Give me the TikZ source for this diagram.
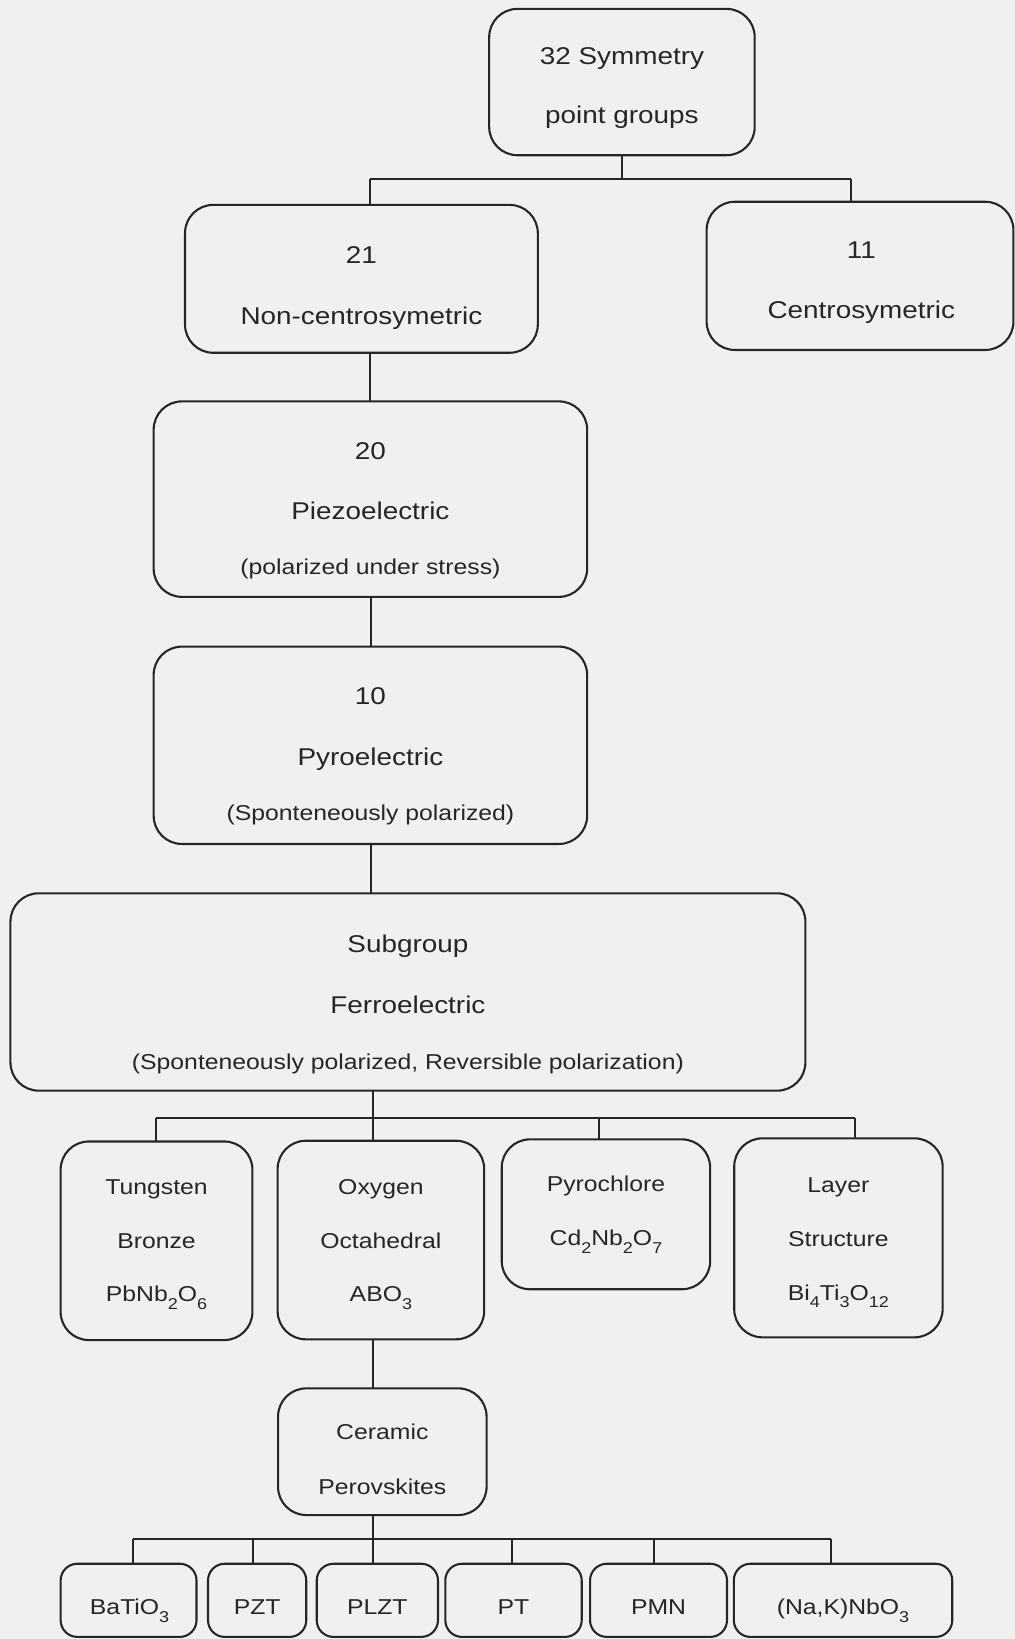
\documentclass[tikz,border=0pt]{standalone}
\usepackage{fontspec}
\setmainfont{Liberation Sans}[FakeStretch=1.15]
\definecolor{paper}{RGB}{240,240,238}
\definecolor{ink}{RGB}{38,38,38}
\newcommand\mainsz{\fontsize{11.6pt}{13pt}\selectfont}
\newcommand\smallsz{\fontsize{10.3pt}{12pt}\selectfont}
\newcommand\chemsub[1]{\raisebox{-3.8pt}{\fontsize{7.5pt}{8pt}\selectfont #1}}

\begin{document}
\begin{tikzpicture}[x=0.5pt,y=-0.5pt,
  box/.style={draw=ink, line width=1pt, rounded corners=13.5pt, inner sep=0pt, outer sep=0pt},
  leaf/.style={box, rounded corners=8pt},
  wire/.style={draw=ink, line width=1pt},
  txt/.style={anchor=base, inner sep=0pt, text=ink, font=\mainsz},
  stxt/.style={txt, font=\smallsz}]

% paper
\fill[paper] (0,0) rectangle (971,1568);
\useasboundingbox (0,0) rectangle (971,1568);

% ---- boxes ----
\node[box, minimum width=127pt,    minimum height=70pt]   (sym) at (595,78.5) {};
\node[box, minimum width=168.75pt, minimum height=70.75pt] (nc) at (345.75,266.75) {};
\node[box, minimum width=146.75pt, minimum height=70.9pt] (cs)  at (822.75,263.9) {};
\node[box, minimum width=207.35pt, minimum height=93.5pt] (pz)  at (354.35,477.5) {};
\node[box, minimum width=207.35pt, minimum height=94.4pt] (py)  at (354.35,713) {};
\node[box, minimum width=380.25pt, minimum height=94.4pt] (fe)  at (390.25,949) {};
\node[box, minimum width=91.75pt,  minimum height=95pt]   (tb)  at (149.75,1187) {};
\node[box, minimum width=98.8pt,   minimum height=95pt]   (oo)  at (364.4,1186.3) {};
\node[box, minimum width=99.7pt,   minimum height=71.7pt] (pc)  at (579.7,1161.7) {};
\node[box, minimum width=99.7pt,   minimum height=95.2pt] (ls)  at (802.1,1184.2) {};
\node[box, minimum width=99.75pt,  minimum height=60.6pt] (cp)  at (365.75,1388.8) {};
\node[leaf, minimum width=65pt,    minimum height=35pt]   (b1)  at (123,1531) {};
\node[leaf, minimum width=47pt,    minimum height=35pt]   (b2)  at (246,1531) {};
\node[leaf, minimum width=58pt,    minimum height=35pt]   (b3)  at (361,1531) {};
\node[leaf, minimum width=65.25pt, minimum height=35pt]   (b4)  at (491.25,1531) {};
\node[leaf, minimum width=65.5pt,  minimum height=35pt]   (b5)  at (630,1531) {};
\node[leaf, minimum width=104.5pt, minimum height=35pt]   (b6)  at (806.5,1531) {};

% ---- labels ----
\node[txt] (sym-a) at (595,62) {32 Symmetry};
\node[txt] (sym-b) at (595,118.5) {point groups};
\node[txt] (nc-a) at (345.75,251.7) {21};
\node[txt] (nc-b) at (345.75,310) {Non-centrosymetric};
\node[txt] (cs-a) at (824,247) {11};
\node[txt] (cs-b) at (824,304.5) {Centrosymetric};
\node[txt]  (pz-a) at (354.35,440) {20};
\node[txt]  (pz-b) at (354.35,497) {Piezoelectric};
\node[stxt] (pz-c) at (354.35,549.4) {(polarized under stress)};
\node[txt]  (py-a) at (354.35,674.4) {10};
\node[txt]  (py-b) at (354.35,732.8) {Pyroelectric};
\node[stxt] (py-c) at (354.35,785) {(Sponteneously polarized)};
\node[txt]  (fe-a) at (390.25,911.4) {Subgroup};
\node[txt]  (fe-b) at (390.25,969.4) {Ferroelectric};
\node[stxt] (fe-c) at (390.25,1023.6) {(Sponteneously polarized, Reversible polarization)};
\node[stxt] (tb-a) at (149.75,1143.2) {Tungsten};
\node[stxt] (tb-b) at (149.75,1194.3) {Bronze};
\node[stxt] (tb-c) at (149.75,1245.3) {PbNb\chemsub{2}O\chemsub{6}};
\node[stxt] (oo-a) at (364.4,1143.2) {Oxygen};
\node[stxt] (oo-b) at (364.4,1194.3) {Octahedral};
\node[stxt] (oo-c) at (364.4,1245.3) {ABO\chemsub{3}};
\node[stxt] (pc-a) at (579.7,1140) {Pyrochlore};
\node[stxt] (pc-b) at (579.7,1192) {Cd\chemsub{2}Nb\chemsub{2}O\chemsub{7}};
\node[stxt] (ls-a) at (802.1,1141) {Layer};
\node[stxt] (ls-b) at (802.1,1192.7) {Structure};
\node[stxt] (ls-c) at (802.1,1243.7) {Bi\chemsub{4}Ti\chemsub{3}O\chemsub{12}};
\node[stxt] (cp-a) at (365.75,1377.6) {Ceramic};
\node[stxt] (cp-b) at (365.75,1429.3) {Perovskites};
\node[stxt] (b1-t) at (124,1545) {BaTiO\chemsub{3}};
\node[stxt] (b2-t) at (246,1545) {PZT};
\node[stxt] (b3-t) at (361,1545) {PLZT};
\node[stxt] (b4-t) at (491.25,1545) {PT};
\node[stxt] (b5-t) at (630,1545) {PMN};
\node[stxt] (b6-t) at (806.5,1545) {(Na,K)NbO\chemsub{3}};

% ---- connectors ----
\coordinate (jA) at (595,171);
\coordinate (lA) at (354,171);
\coordinate (rA) at (814,171);
\coordinate (spine) at (355,0);
\draw[wire] (sym.south) -- (jA);
\draw[wire] (lA) -- (rA);
\draw[wire] (lA) -- (lA |- nc.north);
\draw[wire] (rA) -- (rA |- cs.north);
\draw[wire] (nc.south -| lA) -- (pz.north -| lA);
\draw[wire] (pz.south -| spine) -- (py.north -| spine);
\draw[wire] (py.south -| spine) -- (fe.north -| spine);

\coordinate (fj) at (356.5,1069.5);
\coordinate (fL) at (149,1069.5);
\coordinate (fP) at (572.7,1069.5);
\coordinate (fR) at (817.6,1069.5);
\draw[wire] (fe.south -| fj) -- (fj);
\draw[wire] (fL) -- (fR);
\draw[wire] (fL) -- (fL |- tb.north);
\draw[wire] (fj) -- (fj |- oo.north);
\draw[wire] (fP) -- (fP |- pc.north);
\draw[wire] (fR) -- (fR |- ls.north);
\draw[wire] (oo.south -| fj) -- (cp.north -| fj);

\coordinate (cj) at (357,1472.5);
\coordinate (c1) at (127,1472.5);
\coordinate (c2) at (242,1472.5);
\coordinate (c4) at (490,1472.5);
\coordinate (c5) at (626,1472.5);
\coordinate (c6) at (795,1472.5);
\draw[wire] (cp.south -| cj) -- (cj);
\draw[wire] (c1) -- (c6);
\draw[wire] (c1) -- (c1 |- b1.north);
\draw[wire] (c2) -- (c2 |- b2.north);
\draw[wire] (cj) -- (cj |- b3.north);
\draw[wire] (c4) -- (c4 |- b4.north);
\draw[wire] (c5) -- (c5 |- b5.north);
\draw[wire] (c6) -- (c6 |- b6.north);
\end{tikzpicture}
\end{document}
